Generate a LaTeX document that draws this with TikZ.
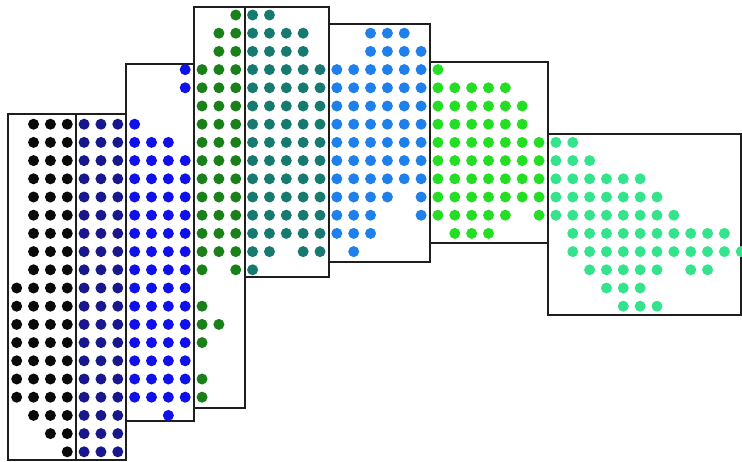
\documentclass[tikz,border=0pt]{standalone}
\definecolor{cK}{RGB}{10,10,10}
\definecolor{cN}{RGB}{24,24,140}
\definecolor{cB}{RGB}{16,16,235}
\definecolor{cG}{RGB}{26,128,26}
\definecolor{cT}{RGB}{22,122,112}
\definecolor{cL}{RGB}{32,128,235}
\definecolor{cM}{RGB}{36,222,36}
\definecolor{cA}{RGB}{52,228,140}
\definecolor{boxline}{RGB}{30,30,30}
\begin{document}
\begin{tikzpicture}[x=1pt,y=-1pt,
  groupbox/.style={draw=boxline,line width=1.8pt}]
\useasboundingbox (0,0) rectangle (742,461);
% boxes
\draw[groupbox] (8,114) rectangle (76,460);
\draw[groupbox] (76,114) rectangle (126,460);
\draw[groupbox] (126,64) rectangle (194,421);
\draw[groupbox] (194,7) rectangle (245,408);
\draw[groupbox] (245,7) rectangle (329,277);
\draw[groupbox] (329,24) rectangle (430,262);
\draw[groupbox] (430,62) rectangle (548,243);
\draw[groupbox] (548,134) rectangle (741,315);
% dots: column / first row / last row / colour
\foreach \c/\a/\b/\col in {
  0/15/21/cK, 1/6/22/cK, 2/6/23/cK, 3/6/24/cK,
  4/6/24/cN, 5/6/24/cN, 6/6/24/cN,
  7/6/21/cB, 8/7/21/cB, 9/7/22/cB, 10/3/4/cB, 10/8/21/cB,
  11/3/14/cG, 11/16/18/cG, 11/20/21/cG, 12/1/13/cG, 12/17/17/cG, 13/0/14/cG,
  14/0/14/cT, 15/0/13/cT, 16/1/12/cT, 17/1/13/cT, 18/3/13/cT,
  19/3/12/cL, 20/3/13/cL, 21/1/12/cL, 22/1/10/cL, 23/1/9/cL, 24/2/11/cL,
  25/3/11/cM, 26/4/12/cM, 27/4/12/cM, 28/4/12/cM, 29/4/11/cM, 30/5/10/cM, 31/7/11/cM,
  32/7/11/cA, 33/7/13/cA, 34/8/14/cA, 35/9/15/cA, 36/9/16/cA, 37/9/16/cA,
  38/10/14/cA, 38/16/16/cA, 39/11/13/cA, 40/12/14/cA, 41/12/14/cA, 42/12/13/cA, 43/13/13/cA}
{
  \foreach \r in {\a,...,\b}
    \fill[\col] ({16.7+16.85*\c},{15+18.2*\r}) circle (5.5);
}
\end{tikzpicture}
\end{document}
